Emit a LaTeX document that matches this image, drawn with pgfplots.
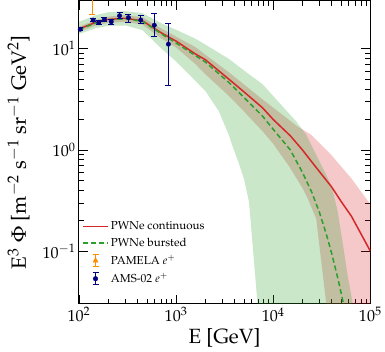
\documentclass[border=0pt]{standalone}
\usepackage[T1]{fontenc}
\usepackage{mathpazo}
\usepackage{pgfplots}
\pgfplotsset{compat=1.18}
\definecolor{cred}{RGB}{214,39,40}
\definecolor{cgreen}{RGB}{44,160,44}
\definecolor{corange}{RGB}{255,140,0}
\definecolor{cnavy}{RGB}{0,0,128}

\begin{document}
\begin{tikzpicture}
\begin{axis}[
  scale only axis, width=289bp, height=301bp,
  xmode=log, ymode=log,
  xmin=100, xmax=1e5, ymin=0.03, ymax=30,
  axis line style={line width=1pt},
  tick style={line width=0.6pt, black},
  tick align=inside,
  major tick length=9bp, minor tick length=5bp,
  xtick={100,1000,10000,100000}, ytick={0.1,1,10},
  tick label style={font=\fontsize{16}{18}\selectfont},
  label style={font=\fontsize{20.5}{24}\selectfont},
  ylabel style={yshift=6bp},
  xlabel={E [GeV]},
  ylabel={E$^3$ $\Phi$ [m$^{-2}$ s$^{-1}$ sr$^{-1}$ GeV$^2$]},
  legend style={draw=none, fill=none, at={(0.0,0.285)}, anchor=north west,
    font=\fontsize{11.5}{13}\selectfont, row sep=3bp},
  legend cell align=left,
  legend image code/.code={\draw[#1] (0bp,0bp) -- (25bp,0bp);},
]

% continuous band
\addplot[draw=none, fill=cred, fill opacity=0.25, forget plot] coordinates {
  (100,16.5)(150,19.3)(200,20.8)(300,21.5)(450,20.5)(710,15.8)(1000,13.2)
  (1575,10.4)(2000,8.75)(3500,5.85)(5000,4.44)(7760,3.16)(10000,2.62)
  (17900,1.7)(21000,1.55)(24600,1.41)(39700,0.89)(64100,0.52)(100000,0.29)
  (100000,0.01)
  (37000,0.02)(35200,0.03)(27700,0.21)(25600,0.25)(22700,0.33)(20000,0.42)
  (14700,0.68)(10000,1.15)(7760,1.53)(5000,2.4)(3500,3.42)(2000,5.6)
  (1575,7.08)(1000,10.3)(710,12.6)(450,17.3)(300,18.5)(200,18.0)(150,17.0)(100,14.8)
} -- cycle;

% bursted band
\addplot[draw=none, fill=cgreen, fill opacity=0.25, forget plot] coordinates {
  (100,18.5)(150,21.5)(200,23.0)(300,23.5)(450,22.5)(710,17.8)(1000,15.4)
  (1575,12.6)(2000,11.0)(3500,7.94)(5000,6.1)(7760,4.47)(10000,3.41)
  (17200,1.92)(21900,1.41)(30100,0.765)(40000,0.44)(46000,0.25)(52000,0.12)
  (58000,0.06)(66000,0.03)(70000,0.02)
  (7100,0.02)(6900,0.03)(5640,0.305)(5000,0.52)(4400,0.75)(3800,1.1)(3500,1.4)
  (2750,2.42)(2000,3.84)(1575,4.83)(1000,7.5)(710,10.0)(450,15.3)(300,17.0)
  (200,16.8)(150,16.0)(100,14.0)
} -- cycle;

% continuous
\addplot[draw=cred, line width=1.5pt] coordinates {
  (100,15.7)(150,18.3)(200,19.5)(300,20.0)(450,18.9)(710,14.3)(1000,11.9)
  (1575,8.9)(2000,7.8)(3500,5.0)(5000,3.75)(7760,2.61)(10000,2.0)(15000,1.38)
  (20000,1.0)(25000,0.76)(32600,0.55)(40000,0.43)(50000,0.31)(64100,0.22)(100000,0.1)
};
\addlegendentry{PWNe continuous}

% bursted
\addplot[draw=cgreen, line width=1.5pt, dash pattern=on 5bp off 3bp] coordinates {
  (100,15.5)(150,18.0)(200,19.3)(300,19.8)(450,18.7)(710,14.0)(1000,11.4)
  (2000,7.4)(3500,4.64)(5000,3.3)(7760,2.16)(10000,1.6)(15000,1.0)(20000,0.6)
  (25000,0.38)(30000,0.24)(35000,0.15)(40000,0.095)(46700,0.052)(53000,0.03)(56000,0.024)
};
\addlegendentry{PWNe bursted}

% PAMELA
\addplot[corange, only marks, mark=triangle*, mark size=2.5bp,
  legend image code/.code={
    \draw[corange, line width=1pt] (12.5bp,-6bp) -- (12.5bp,6bp)
      (9.5bp,-6bp) -- (15.5bp,-6bp) (9.5bp,6bp) -- (15.5bp,6bp);
    \fill[corange] (12.5bp,3bp) -- (10bp,-1.5bp) -- (15bp,-1.5bp) -- cycle;},
  error bars/.cd, y dir=both, y explicit,
  error bar style={line width=1pt},
  error mark options={rotate=90, mark size=3bp, line width=1pt}] coordinates {
  (137,36) += (0,5) -= (0,14)
};
\addlegendentry{PAMELA $e^{+}$}

% AMS-02
\addplot[cnavy, only marks, mark=*, mark size=2.2bp,
  legend image code/.code={
    \draw[cnavy, line width=1pt] (12.5bp,-6bp) -- (12.5bp,6bp)
      (9.5bp,-6bp) -- (15.5bp,-6bp) (9.5bp,6bp) -- (15.5bp,6bp);
    \fill[cnavy] (12.5bp,0bp) circle (2.3bp);},
  error bars/.cd, y dir=both, y explicit,
  error bar style={line width=1pt},
  error mark options={rotate=90, mark size=3bp, line width=1pt}] coordinates {
  (103,15.6) +- (0,0.6)
  (140,19.2) +- (0,0.8)
  (160,18.1) +- (0,0.8)
  (183,19.5) +- (0,0.9)
  (215,18.5) +- (0,1.0)
  (262,21.2) +- (0,1.4)
  (323,20.3) += (0,1.7) -= (0,2.2)
  (433,19.2) += (0,2.0) -= (0,1.6)
  (597,17.1) += (0,5.3) -= (0,4.0)
  (834,11.1) += (0,6.7) -= (0,6.8)
};
\addlegendentry{AMS-02 $e^{+}$}
\end{axis}
\path (current axis.outer west) ++(-4bp,0) coordinate (padleft);
\end{tikzpicture}
\end{document}
